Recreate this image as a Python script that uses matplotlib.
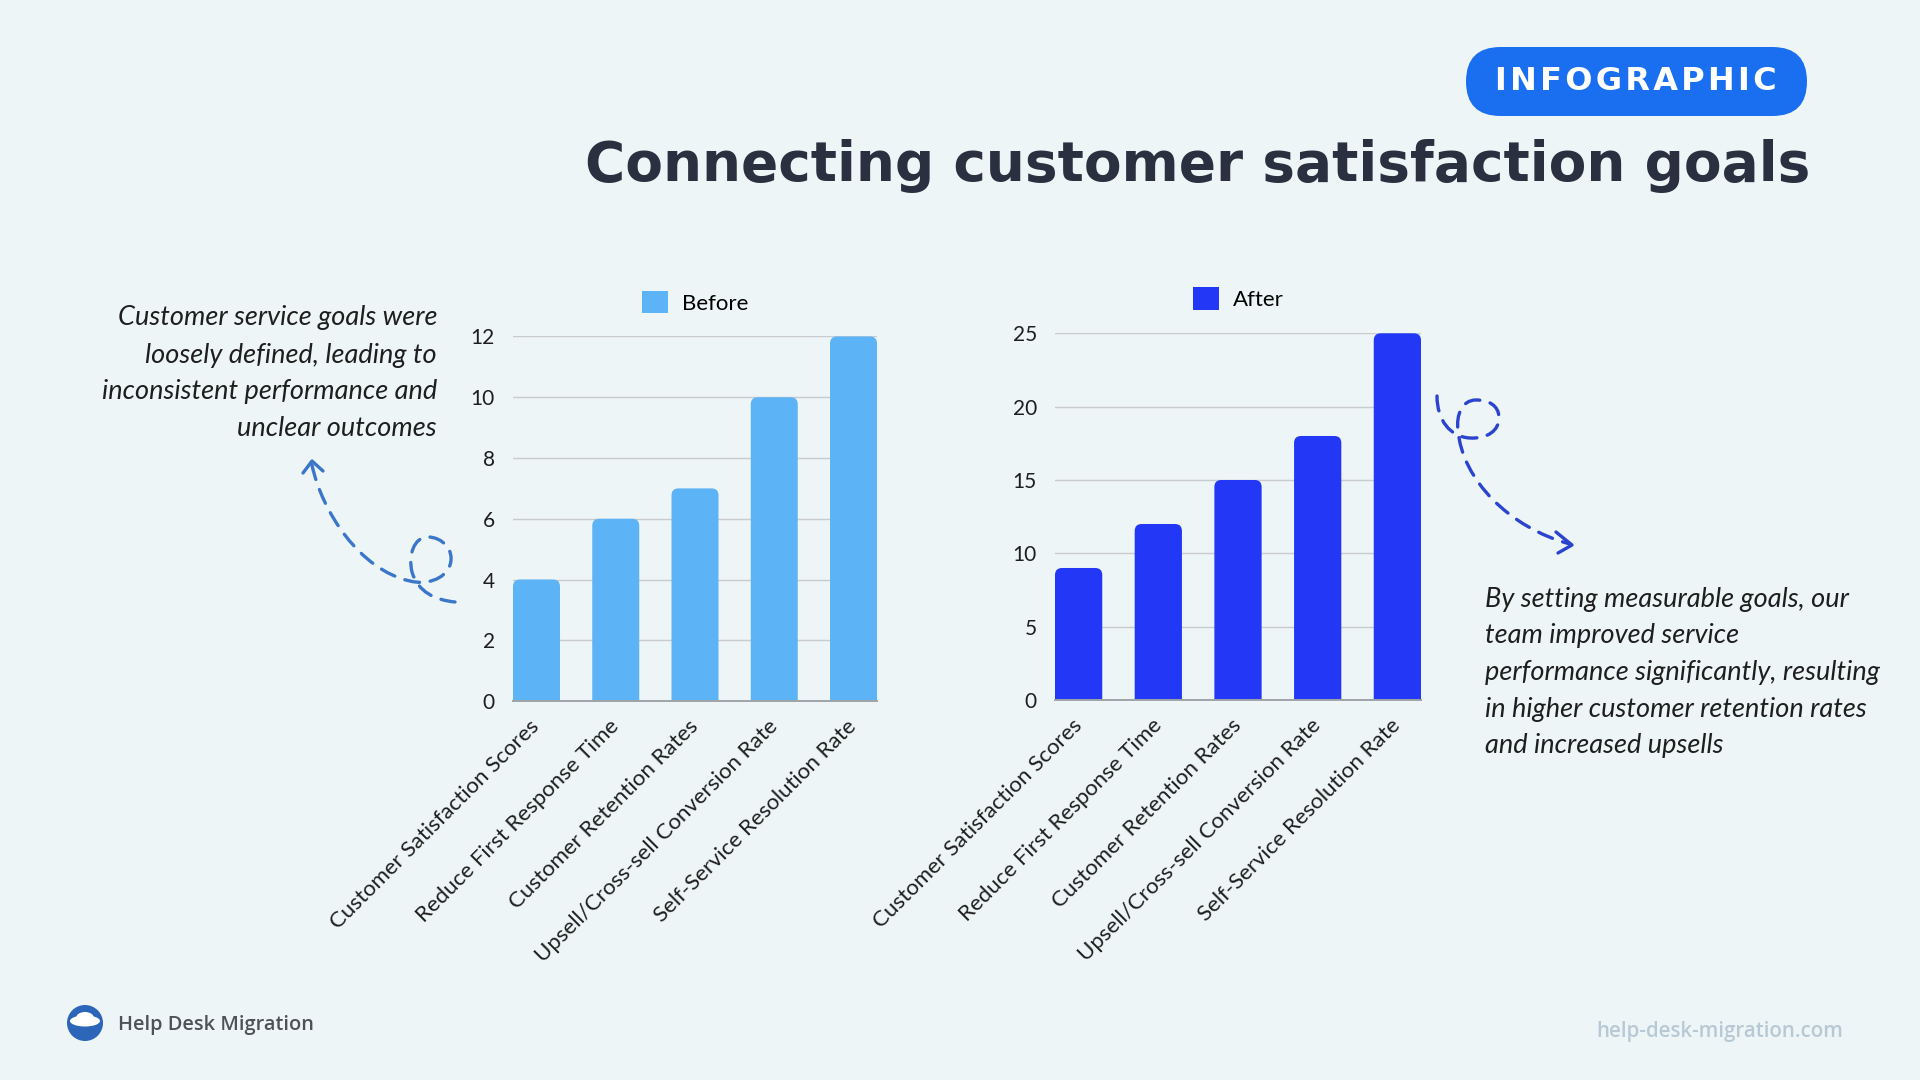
import matplotlib

matplotlib.use("Agg")
import matplotlib.pyplot as plt
from matplotlib.patches import FancyBboxPatch, Patch, Circle, Ellipse
from matplotlib.path import Path
from matplotlib.patches import PathPatch
from matplotlib.transforms import ScaledTranslation

# data
categories = [
    "Customer Satisfaction Scores",
    "Reduce First Response Time",
    "Customer Retention Rates",
    "Upsell/Cross-sell Conversion Rate",
    "Self-Service Resolution Rate",
]
before = [4, 6, 7, 10, 12]
after = [9, 12, 15, 18, 25]
before_ticks = [0, 2, 4, 6, 8, 10, 12]
after_ticks = [0, 5, 10, 15, 20, 25]

left_note = [
    "Customer service goals were",
    "loosely defined, leading to",
    "inconsistent performance and",
    "unclear outcomes",
]
right_note = [
    "By setting measurable goals, our",
    "team improved service",
    "performance significantly, resulting",
    "in higher customer retention rates",
    "and increased upsells",
]

BG = "#eef5f6"
C_BEFORE = "#5cb3f6"
C_AFTER = "#2238f6"
TXT = "#1e1e1e"
FONT = "Lato"

W, H = 1920, 1080
fig = plt.figure(figsize=(W / 100, H / 100), dpi=100, facecolor=BG)


def px_axes(left, top, right, bottom):
    return fig.add_axes([left / W, 1 - bottom / H, (right - left) / W, (bottom - top) / H])


def bar_panel(ax, values, ticks, color, label):
    width = 0.593
    x = range(len(values))
    ax.set_facecolor("none")
    ax.set_xlim(-width / 2, len(values) - 1 + width / 2)
    ax.set_ylim(0, ticks[-1])
    bars = ax.bar(x, values, width=width, color=color)

    # swap the flat bars for ones with rounded tops
    bbox = ax.get_position()
    wpx, hpx = bbox.width * W, bbox.height * H
    xupp = (ax.get_xlim()[1] - ax.get_xlim()[0]) / wpx
    yupp = (ax.get_ylim()[1] - ax.get_ylim()[0]) / hpx
    aspect = yupp / xupp
    r = 7 * xupp
    for rect in bars:
        bx, bw, bh = rect.get_x(), rect.get_width(), rect.get_height()
        ax.add_patch(FancyBboxPatch(
            (bx, -2 * r * aspect), bw, bh + 2 * r * aspect,
            boxstyle=f"round,pad=0,rounding_size={r}", mutation_aspect=aspect,
            facecolor=color, edgecolor="none", zorder=2))
        rect.remove()

    ax.set_yticks(ticks)
    ax.set_xticks(list(x))
    ax.set_xticklabels(categories, rotation=45, ha="right", va="center",
                       rotation_mode="anchor", fontsize=16, family=FONT, color=TXT)
    nudge = ScaledTranslation(9 / 100, -3 / 100, fig.dpi_scale_trans)
    for t in ax.get_xticklabels():
        t.set_transform(t.get_transform() + nudge)
    ax.tick_params(axis="y", length=0, pad=13, labelsize=15, labelcolor=TXT)
    ax.tick_params(axis="x", length=0, pad=16)
    for t in ax.get_yticklabels():
        t.set_family(FONT)
    ax.grid(axis="y", color="#c8cccf", linewidth=1.0)
    ax.set_axisbelow(True)
    for side in ("left", "right", "top"):
        ax.spines[side].set_visible(False)
    ax.spines["bottom"].set_color("#9ea4a8")
    ax.spines["bottom"].set_linewidth(1.4)
    ax.spines["bottom"].set_zorder(3)
    ax.legend(handles=[Patch(facecolor=color, label=label)], loc="lower center",
              bbox_to_anchor=(0.5, 1.063), frameon=False, borderpad=0, borderaxespad=0,
              handlelength=1.2, handleheight=1.2, handletextpad=0.6,
              prop={"family": FONT, "size": 16})


ax1 = px_axes(513, 336.5, 877, 701)
bar_panel(ax1, before, before_ticks, C_BEFORE, "Before")
ax2 = px_axes(1055, 333.3, 1421, 700)
bar_panel(ax2, after, after_ticks, C_AFTER, "After")

# decoration layer in pixel coordinates
deco = fig.add_axes([0, 0, 1, 1], zorder=10)
deco.set_xlim(0, W)
deco.set_ylim(H, 0)
deco.axis("off")
deco.set_facecolor("none")

deco.add_patch(FancyBboxPatch((1466, 47), 341, 69, boxstyle="round,pad=0,rounding_size=34.5",
                              facecolor="#1a6ef0", edgecolor="none"))
deco.text(1636, 82, "\u200a".join("INFOGRAPHIC"), ha="center", va="center", color="white",
          fontsize=23, fontweight="bold", family="DejaVu Sans")
deco.text(1810, 181, "Connecting customer satisfaction goals", ha="right", va="baseline",
          color="#2b3040", fontsize=39.5, fontweight="bold", family="DejaVu Sans")

for i, line in enumerate(left_note):
    deco.text(437, 318 + 37 * i, line, ha="right", va="center", fontsize=19.5,
              style="italic", family=FONT, color=TXT)
for i, line in enumerate(right_note):
    deco.text(1485, 599 + 36.7 * i, line, ha="left", va="center", fontsize=19.5,
              style="italic", family=FONT, color=TXT)

# dashed looping arrows
M, C4 = Path.MOVETO, Path.CURVE4
left_path = Path(
    [(312, 465), (322, 512), (360, 570), (410, 581),
     (425, 585), (445, 580), (450, 565),
     (455, 550), (442, 537), (428, 537),
     (414, 537), (408, 555), (412, 572),
     (418, 592), (435, 600), (455, 602)],
    [M, C4, C4, C4, C4, C4, C4, C4, C4, C4, C4, C4, C4, C4, C4, C4])
deco.add_patch(PathPatch(left_path, facecolor="none", edgecolor="#3a77c9", lw=2.4,
                         linestyle=(0, (4.5, 3.2)), capstyle="round"))
deco.plot([303, 312, 323], [473, 461, 471], color="#3a77c9", lw=2.4, solid_capstyle="round")

right_path = Path(
    [(1437, 396), (1437, 420), (1450, 437), (1470, 438),
     (1488, 439), (1499, 430), (1499, 418),
     (1499, 405), (1488, 400), (1476, 400),
     (1462, 400), (1456, 415), (1458, 430),
     (1462, 480), (1510, 528), (1570, 544)],
    [M, C4, C4, C4, C4, C4, C4, C4, C4, C4, C4, C4, C4, C4, C4, C4])
deco.add_patch(PathPatch(right_path, facecolor="none", edgecolor="#2b44cf", lw=2.4,
                         linestyle=(0, (4.5, 3.2)), capstyle="round"))
deco.plot([1556, 1572, 1558], [532, 545, 553], color="#2b44cf", lw=2.4, solid_capstyle="round")

# footer
deco.add_patch(Circle((85, 1023), 18, facecolor="#2c66b8", edgecolor="none"))
deco.add_patch(Ellipse((85, 1021), 30, 11, facecolor="white", edgecolor="none"))
deco.add_patch(Ellipse((85, 1018), 18, 12, facecolor="white", edgecolor="none"))
deco.text(118, 1025, "Help Desk Migration", ha="left", va="center", fontsize=14.4,
          fontweight="semibold", family="Open Sans", color="#4d5258")
deco.text(1843, 1031, "help-desk-migration.com", ha="right", va="center", fontsize=14.8,
          fontweight="semibold", family="Open Sans", color="#b8c9d6")

fig.savefig("out.png", dpi=100, facecolor=BG)
